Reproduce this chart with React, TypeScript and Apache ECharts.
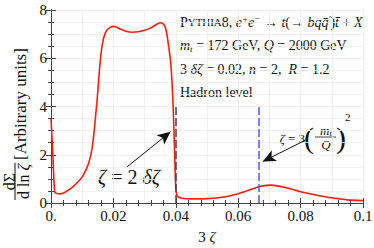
import React, { useEffect, useRef } from "react";
import * as echarts from "echarts";

// ---- data ----
const zeta3: number[] = [
  0, 0.0006, 0.0012, 0.002, 0.003, 0.004, 0.0052, 0.0068, 0.0083, 0.0095, 0.0104,
  0.0117, 0.0125, 0.0131, 0.0136, 0.014, 0.0144, 0.0148, 0.0154, 0.0158, 0.0163,
  0.0168, 0.0174, 0.018, 0.019, 0.02, 0.021, 0.022, 0.024, 0.026, 0.028, 0.03,
  0.032, 0.0335, 0.035, 0.0358, 0.0366, 0.0372, 0.0378, 0.0383, 0.0388, 0.0392,
  0.0396, 0.04, 0.0405, 0.042, 0.045, 0.048, 0.05, 0.053, 0.056, 0.059, 0.062,
  0.065, 0.067, 0.069, 0.0705, 0.072, 0.075, 0.078, 0.08, 0.083, 0.086, 0.089,
  0.092, 0.095, 0.1,
];
const dSigma: number[] = [
  3.5, 2.0, 0.45, 0.39, 0.38, 0.41, 0.5, 0.65, 0.83, 1.0, 1.17,
  1.52, 1.85, 2.2, 2.7, 3.17, 3.75, 4.3, 5.3, 5.9, 6.45,
  6.8, 7.04, 7.18, 7.28, 7.32, 7.29, 7.22, 7.12, 7.08, 7.1, 7.16,
  7.26, 7.38, 7.47, 7.45, 7.3, 6.95, 6.4, 5.9, 5.0, 3.8,
  2.2, 0.6, 0.28, 0.2, 0.17, 0.17, 0.18, 0.21, 0.26, 0.35, 0.47,
  0.6, 0.68, 0.73, 0.74, 0.72, 0.64, 0.54, 0.47, 0.38, 0.3, 0.23,
  0.18, 0.13, 0.1,
];
const xTicks: number[] = [0, 0.02, 0.04, 0.06, 0.08, 0.1];
const xTickLabels: string[] = ["0.", "0.02", "0.04", "0.06", "0.08", "0.1"];
const yTickLabels: string[] = ["0", "2", "4", "6", "8"];
const deltaZeta3 = 0.04; // zeta = 2 delta zeta
const mt = 172;
const Q = 2000;
const peakLine = 3 * Math.pow(mt / Q, 2) * 3; // 3*zeta with zeta = 3 (mt/Q)^2
const guideTop = 4;
const arrow1: [number, number][] = [[0.0244, 1.5], [0.0383, 2.95]];
const arrow2: [number, number][] = [[0.0815, 2.6], [0.0679, 1.72]];

const serif = '"Liberation Serif", "DejaVu Serif", serif';
const ink = "#111";

function T(x: number, y: number, text: string, size: number, extra: any = {}) {
  return {
    type: "text",
    x,
    y,
    silent: true,
    style: {
      text,
      fontFamily: serif,
      fontSize: size,
      fill: ink,
      textAlign: extra.align || "left",
      align: extra.align || "left",
      textVerticalAlign: "middle",
      verticalAlign: "middle",
      fontStyle: extra.italic ? "italic" : "normal",
      rich: extra.rich,
    },
  };
}

const richBase = (s: number) => ({
  n: { fontFamily: serif, fontSize: s, fill: ink, lineHeight: 16 },
  i: { fontFamily: serif, fontSize: s, fill: ink, fontStyle: "italic", lineHeight: 16 },
  sc: { fontFamily: serif, fontSize: s, fill: ink, lineHeight: 16 },
  sc2: { fontFamily: serif, fontSize: s * 0.78, fill: ink, lineHeight: 16 },
  sup: { fontFamily: serif, fontSize: s * 0.65, fill: ink, fontStyle: "italic", verticalAlign: "top", lineHeight: 10 },
  sub: { fontFamily: serif, fontSize: s * 0.65, fill: ink, fontStyle: "italic", verticalAlign: "bottom", lineHeight: 9 },
});

export default function App() {
  const ref = useRef<HTMLDivElement>(null);
  useEffect(() => {
    if (!ref.current) return;
    const chart = echarts.init(ref.current, null, { renderer: "svg" });
    const frame = "#444";
    const data = zeta3.map((x, i) => [x, dSigma[i]]);
    const xLabel = (v: number) => {
      const k = xTicks.findIndex((t) => Math.abs(t - v) < 1e-9);
      return k >= 0 ? xTickLabels[k] : "";
    };
    const yLabel = (v: number) => {
      const k = Math.round(v / 2);
      return Math.abs(v - k * 2) < 1e-9 ? yTickLabels[k] : "";
    };
    const axisCommon = {
      type: "value",
      axisLine: { show: true, lineStyle: { color: frame, width: 1 } },
      axisTick: { show: true, inside: true, length: 5, lineStyle: { color: frame } },
      minorTick: { show: true, length: 3, lineStyle: { color: frame } },
      splitLine: { show: false },
    };
    const s = 14;
    const mathRich = (size: number) => ({
      n: { fontFamily: serif, fontSize: size, fill: ink },
      i: { fontFamily: serif, fontSize: size, fill: ink, fontStyle: "italic" },
    });
    const option: any = {
      animation: false,
      grid: { left: 51, right: 11, top: 10, bottom: 45, containLabel: false, outerBoundsMode: "none" },
      xAxis: [
        {
          ...axisCommon,
          position: "bottom",
          min: 0,
          max: 0.1,
          interval: 0.02,
          minorTick: { ...axisCommon.minorTick, splitNumber: 5 },
          axisLabel: { show: true, formatter: xLabel, fontFamily: serif, fontSize: 15, color: ink, margin: 5 },
        },
        {
          ...axisCommon,
          position: "top",
          min: 0,
          max: 0.1,
          interval: 0.02,
          minorTick: { ...axisCommon.minorTick, splitNumber: 5 },
          axisLabel: { show: false },
        },
        {
          type: "value",
          position: "bottom",
          min: 0,
          max: 0.1,
          interval: 0.01,
          axisLine: { show: false },
          axisTick: { show: false },
          axisLabel: { show: false },
          splitLine: { show: true, lineStyle: { color: "#ececec", width: 0.8 } },
        },
      ],
      yAxis: [
        {
          ...axisCommon,
          position: "left",
          min: 0,
          max: 8,
          interval: 2,
          minorTick: { ...axisCommon.minorTick, splitNumber: 4 },
          axisLabel: { show: true, formatter: yLabel, fontFamily: serif, fontSize: 15, color: ink, margin: 4 },
        },
        {
          ...axisCommon,
          position: "right",
          min: 0,
          max: 8,
          interval: 2,
          minorTick: { ...axisCommon.minorTick, splitNumber: 4 },
          axisLabel: { show: false },
        },
        {
          type: "value",
          position: "left",
          min: 0,
          max: 8,
          interval: 0.5,
          axisLine: { show: false },
          axisTick: { show: false },
          axisLabel: { show: false },
          splitLine: { show: true, lineStyle: { color: "#efefef", width: 0.8 } },
        },
      ],
      series: [
        {
          type: "line",
          xAxisIndex: 0,
          yAxisIndex: 0,
          data,
          smooth: 0.25,
          showSymbol: false,
          lineStyle: { color: "#ff1d0d", width: 1.6 },
          z: 3,
          markLine: {
            silent: true,
            symbol: ["none", "none"],
            label: { show: false },
            animation: false,
            data: [
              [
                { coord: [deltaZeta3, 0], lineStyle: { color: "#444", width: 1.5, type: [8, 3] } },
                { coord: [deltaZeta3, guideTop] },
              ],
              [
                { coord: [peakLine, 0], lineStyle: { color: "#4d5ef2", width: 1.5, type: [8, 3] } },
                { coord: [peakLine, guideTop] },
              ],
              [
                { coord: arrow1[0], symbol: "none", lineStyle: { color: "#111", width: 1, type: "solid" } },
                { coord: arrow1[1], symbol: "arrow", symbolSize: [9, 13] },
              ],
              [
                { coord: arrow2[0], symbol: "none", lineStyle: { color: "#111", width: 1, type: "solid" } },
                { coord: arrow2[1], symbol: "arrow", symbolSize: [9, 13] },
              ],
            ],
          },
        },
      ],
      graphic: [
        // info block
        T(180, 22, "{sc|P}{sc2|YTHIA}{n|8, }{i|e}{sup|+}{i|e}{sup|−}{n| → }{i|t}{n|(→ }{i|bqq̄}{sup|′}{n|)}{i|t̄}{n| + }{i|X}", s, { rich: richBase(s) }),
        T(180, 45, "{i|m}{sub|t}{n| = 172 GeV, }{i|Q}{n| = 2000 GeV}", s, { rich: richBase(s) }),
        T(180, 69, "{n|3 }{i|δζ}{n| = 0.02, }{i|n}{n| = 2,  }{i|R}{n| = 1.2}", s, { rich: richBase(s) }),
        T(180, 92, "Hadron level", s),
        // big annotation
        T(129, 177, "{i|ζ}{n| = 2 }{i|δζ}", 20, { align: "center", rich: mathRich(20) }),
        // small annotation zeta = 3 (mt/Q)^2
        {
          type: "group",
          x: 305,
          y: 137,
          silent: true,
          children: [
            T(0, 1, "{i|ζ}{n| = 3}", 13, { align: "right", rich: mathRich(13) }),
            T(-1, 0, "(", 30, { align: "left" }),
            T(21, -7, "{i|m}{sub|t}", 13, {
              align: "center",
              rich: {
                i: { fontFamily: serif, fontSize: 13, fill: ink, fontStyle: "italic", lineHeight: 15 },
                sub: { fontFamily: serif, fontSize: 9, fill: ink, fontStyle: "italic", verticalAlign: "bottom", lineHeight: 8 },
              },
            }),
            {
              type: "line",
              shape: { x1: 10, y1: 0, x2: 31, y2: 0 },
              style: { stroke: ink, lineWidth: 0.8 },
            },
            T(21, 7, "Q", 13, { align: "center", italic: true }),
            T(31, 0, ")", 30, { align: "left" }),
            T(40, -20, "2", 11, { align: "left" }),
          ],
        },
        // x axis name
        T(207, 237, "{n|3 }{i|ζ}", 15, { align: "center", rich: mathRich(15) }),
        // y axis name (rotated)
        {
          type: "group",
          x: 15,
          y: 200,
          rotation: Math.PI / 2,
          silent: true,
          children: [
            {
              type: "line",
              shape: { x1: 0, y1: 0, x2: 37, y2: 0 },
              style: { stroke: ink, lineWidth: 1 },
            },
            {
              type: "text",
              x: 18.5,
              y: -6,
              style: { text: "dΣ", fontFamily: serif, fontSize: 16, fill: ink, textAlign: "center", align: "center", textVerticalAlign: "middle", verticalAlign: "middle" },
            },
            {
              type: "text",
              x: 18.5,
              y: 8,
              style: {
                text: "{n|d ln }{i|ζ}",
                fontFamily: serif,
                fontSize: 16,
                fill: ink,
                textAlign: "center",
                align: "center",
                textVerticalAlign: "middle",
                verticalAlign: "middle",
                rich: mathRich(16),
              },
            },
            {
              type: "text",
              x: 40,
              y: 5,
              style: { text: "[Arbitrary units]", fontFamily: serif, fontSize: 17, fill: ink, textAlign: "left", align: "left", textVerticalAlign: "middle", verticalAlign: "middle" },
            },
          ],
        },
      ],
    };
    chart.setOption(option);
    return () => chart.dispose();
  }, []);
  return <div ref={ref} style={{ width: 374, height: 248, position: "absolute", left: 0, top: 0 }} />;
}
